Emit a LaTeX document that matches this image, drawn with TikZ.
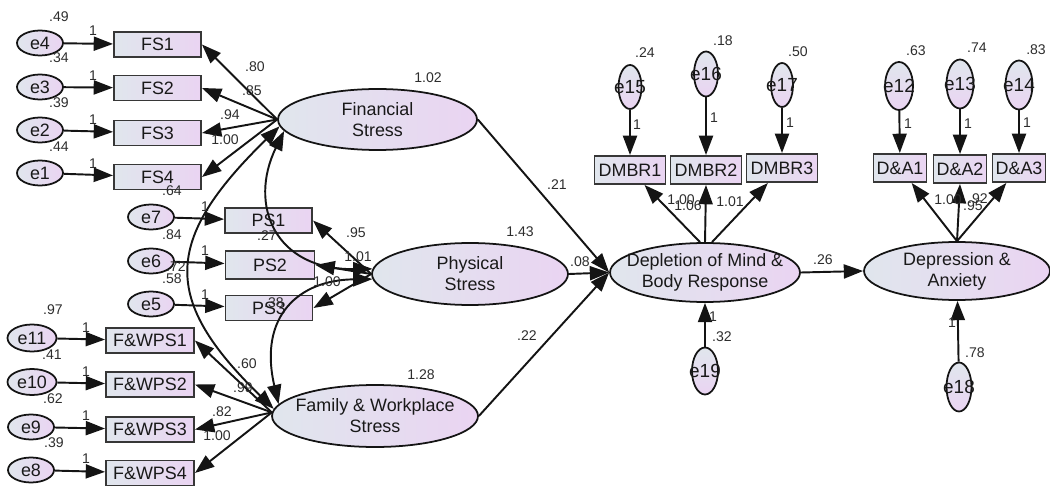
\documentclass[tikz,border=0pt]{standalone}
\usepackage{fontspec}
\setmainfont{Liberation Sans}
\usetikzlibrary{arrows.meta,shapes.geometric}
\definecolor{fillL}{RGB}{224,230,237}
\definecolor{fillR}{RGB}{234,212,242}
\definecolor{edge}{RGB}{20,20,20}
\definecolor{boxedge}{RGB}{55,55,55}
\definecolor{txt}{RGB}{25,25,25}
\definecolor{numc}{RGB}{45,45,45}
\begin{document}
\begin{tikzpicture}[x=0.02cm,y=-0.02cm,
  every node/.style={text=txt},
  latent/.style={ellipse,draw=edge,line width=1pt,left color=fillL,right color=fillR,inner sep=0pt},
  lattext/.style={align=center,font=\fontsize{10.2}{12}\selectfont,inner sep=0pt},
  obs/.style={rectangle,draw=boxedge,line width=1.1pt,left color=fillL,right color=fillR,inner sep=0pt,minimum width=1.74cm,minimum height=0.5cm,font=\fontsize{10.2}{12}\selectfont},
  errh/.style={ellipse,draw=edge,line width=1pt,left color=fillL,right color=fillR,inner sep=0pt,minimum width=0.92cm,minimum height=0.5cm,font=\fontsize{10.2}{12}\selectfont},
  errv/.style={ellipse,draw=edge,line width=1pt,top color=fillL,bottom color=fillR,inner sep=0pt,minimum width=0.5cm,minimum height=0.92cm,font=\fontsize{10.8}{12}\selectfont},
  num/.style={font=\fontsize{8}{9}\selectfont,text=numc,inner sep=0pt},
  arr/.style={draw=edge,line width=1.1pt,-{Triangle[length=11pt,width=8pt]}},
  darr/.style={draw=edge,line width=1.1pt,{Triangle[length=11pt,width=8pt]}-{Triangle[length=11pt,width=8pt]}},
]
\useasboundingbox (0,0) rectangle (1050,489);

% ---------- latent variables ----------
\node[latent,minimum width=3.98cm,minimum height=1.22cm] (fs) at (377.5,119.5) {};
\node[lattext] (fst) at (fs) {Financial\\Stress};
\node[latent,minimum width=3.92cm,minimum height=1.24cm] (ps) at (470,274) {};
\node[lattext] (pst) at (ps) {Physical\\Stress};
\node[latent,minimum width=4.12cm,minimum height=1.24cm] (fws) at (375,416) {};
\node[lattext] (fwst) at (fws) {Family \& Workplace\\Stress};
\node[latent,minimum width=3.8cm,minimum height=1.18cm] (dep) at (705,272.5) {};
\node[lattext] (dept) at (dep) {Depletion of Mind \&\\Body Response};
\node[latent,minimum width=3.72cm,minimum height=1.16cm] (da) at (957,271) {};
\node[lattext] (dat) at (da) {Depression \&\\Anxiety};

% ---------- FS indicators ----------
\node[errh] (e4) at (40,43) {e4};
\node[errh] (e3) at (40,87) {e3};
\node[errh] (e2) at (40,130) {e2};
\node[errh] (e1) at (40,173) {e1};
\node[obs] (fs1) at (157.5,44.5) {FS1};
\node[obs] (fs2) at (157.5,88) {FS2};
\node[obs] (fs3) at (157.5,133) {FS3};
\node[obs] (fs4) at (157.5,177) {FS4};

% ---------- PS indicators ----------
\node[errh] (e7) at (151,217) {e7};
\node[errh] (e6) at (151,261) {e6};
\node[errh] (e5) at (151,304) {e5};
\node[obs] (ps1) at (268.5,220.5) {PS1};
\node[obs,minimum width=1.78cm,minimum height=0.56cm] (ps2) at (270,265) {PS2};
\node[obs] (ps3) at (269,308) {PS3};

% ---------- FWS indicators ----------
\node[errh,minimum width=0.98cm,minimum height=0.54cm] (e11) at (32,338) {e11};
\node[errh,minimum width=0.98cm,minimum height=0.52cm] (e10) at (32,382) {e10};
\node[errh] (e9) at (31,427) {e9};
\node[errh] (e8) at (31,470) {e8};
\node[obs,minimum width=1.76cm] (fw1) at (150,340.5) {F\&WPS1};
\node[obs,minimum width=1.76cm] (fw2) at (150,384.5) {F\&WPS2};
\node[obs,minimum width=1.76cm] (fw3) at (150,429.5) {F\&WPS3};
\node[obs,minimum width=1.76cm] (fw4) at (150,473) {F\&WPS4};

% ---------- DMBR indicators ----------
\node[errv,minimum width=0.46cm,minimum height=0.88cm] (e15) at (630,87) {\makebox[0pt]{e15}};
\node[errv,minimum width=0.48cm,minimum height=0.9cm] (e16) at (706,74) {\makebox[0pt]{e16}};
\node[errv,minimum width=0.44cm,minimum height=0.88cm] (e17) at (782,85) {\makebox[0pt]{e17}};
\node[obs,minimum width=1.42cm,minimum height=0.56cm] (dm1) at (630,170) {DMBR1};
\node[obs,minimum width=1.42cm,minimum height=0.56cm] (dm2) at (706,170) {DMBR2};
\node[obs,minimum width=1.42cm,minimum height=0.56cm] (dm3) at (782,168) {DMBR3};

% ---------- D&A indicators ----------
\node[errv,minimum width=0.56cm,minimum height=0.96cm] (e12) at (899,86) {\makebox[0pt]{e12}};
\node[errv,minimum width=0.54cm,minimum height=0.98cm] (e13) at (960,84) {\makebox[0pt]{e13}};
\node[errv,minimum width=0.54cm,minimum height=0.98cm] (e14) at (1019,85) {\makebox[0pt]{e14}};
\node[obs,minimum width=1.06cm,minimum height=0.56cm] (da1) at (900,168) {D\&A1};
\node[obs,minimum width=1.06cm,minimum height=0.56cm] (da2) at (960,169) {D\&A2};
\node[obs,minimum width=1.06cm,minimum height=0.56cm] (da3) at (1019,168) {D\&A3};

% ---------- residuals ----------
\node[errv,minimum width=0.52cm,minimum height=0.94cm] (e19) at (705,371) {\makebox[0pt]{e19}};
\node[errv,minimum width=0.5cm,minimum height=0.98cm] (e18) at (959,387) {\makebox[0pt]{e18}};

% ---------- error paths ----------
\draw[arr] (e4) -- (fs1);
\draw[arr] (e3) -- (fs2);
\draw[arr] (e2) -- (fs3);
\draw[arr] (e1) -- (fs4);
\draw[arr] (e7) -- (ps1);
\draw[arr] (e6) -- (ps2);
\draw[arr] (e5) -- (ps3);
\draw[arr] (e11) -- (fw1);
\draw[arr] (e10) -- (fw2);
\draw[arr] (e9) -- (fw3);
\draw[arr] (e8) -- (fw4);
\draw[arr] (e15) -- (dm1);
\draw[arr] (e16) -- (dm2);
\draw[arr] (e17) -- (dm3);
\draw[arr] (e12) -- (da1);
\draw[arr] (e13) -- (da2);
\draw[arr] (e14) -- (da3);
\draw[arr] (e19) -- (dep);
\draw[arr] (e18) -- (da);

% ---------- loadings ----------
\draw[arr] (fs.west) -- (fs1.east);
\draw[arr] (fs.west) -- (fs2.east);
\draw[arr] (fs.west) -- (fs3.east);
\draw[arr] (fs.west) -- (fs4.east);
\draw[arr] (ps.west) -- (ps1.east);
\draw[arr] (ps.west) -- (ps2.east);
\draw[arr] (ps.west) -- (ps3.east);
\draw[arr] (fws.178) -- (fw1.east);
\draw[arr] (fws.178) -- (fw2.east);
\draw[arr] (fws.178) -- (fw3.east);
\draw[arr] (fws.178) -- (fw4.east);
\draw[arr] ([xshift=-0.1cm]dep.north) -- (dm1);
\draw[arr] (dep.north) -- (dm2.south);
\draw[arr] ([xshift=0.14cm]dep.north) -- (dm3);
\draw[arr] (da.north) -- (da1);
\draw[arr] (da.north) -- (da2.south);
\draw[arr] (da.north) -- (da3);

% ---------- structural paths ----------
\draw[arr] (fs.east) -- (dep.west);
\draw[arr] (ps.east) -- (dep.west);
\draw[arr] (fws.east) -- (dep.west);
\draw[arr] (dep.east) -- (da.west);

% ---------- covariances ----------
\draw[darr] (fs.184) .. controls (162,241) and (162,300) .. (fws.176);
\draw[darr] (fs.187) .. controls (248,205) and (275,270) .. (ps.177);
\draw[darr] (ps.183) .. controls (300,280) and (258,315) .. (fws.173);

% ---------- numbers: FS block ----------
\node[num] (n1) at (59,17) {.49};
\node[num] (n2) at (59,58) {.34};
\node[num] (n3) at (59,103) {.39};
\node[num] (n4) at (59,147) {.44};
\node[num] (n5) at (93,31) {1};
\node[num] (n6) at (93,76) {1};
\node[num] (n7) at (93,120) {1};
\node[num] (n8) at (93,164) {1};
\node[num] (n9) at (255,67) {.80};
\node[num] (n10) at (252,91) {.85};
\node[num] (n11) at (230,115) {.94};
\node[num] (n12) at (225,140) {1.00};
\node[num] (n13) at (428,78) {1.02};

% ---------- numbers: PS block ----------
\node[num] (n14) at (172,191) {.64};
\node[num] (n15) at (172,235) {.84};
\node[num] (n16) at (176,267) {.72};
\node[num] (n17) at (172,279) {.58};
\node[num] (n18) at (205,207) {1};
\node[num] (n19) at (205,251) {1};
\node[num] (n20) at (205,295) {1};
\node[num] (n21) at (267,236) {.27};
\node[num] (n22) at (274,303) {.38};
\node[num] (n23) at (356,233) {.95};
\node[num] (n24) at (358,257) {1.01};
\node[num] (n25) at (327,282) {1.00};
\node[num] (n26) at (520,232) {1.43};

% ---------- numbers: FWS block ----------
\node[num] (n27) at (53,310) {.97};
\node[num] (n28) at (52,355) {.41};
\node[num] (n29) at (53,399) {.62};
\node[num] (n30) at (54,443) {.39};
\node[num] (n31) at (86,328) {1};
\node[num] (n32) at (86,372) {1};
\node[num] (n33) at (86,416) {1};
\node[num] (n34) at (86,459) {1};
\node[num] (n35) at (247,364) {.60};
\node[num] (n36) at (243,388) {.99};
\node[num] (n37) at (222,412) {.82};
\node[num] (n38) at (217,436) {1.00};
\node[num] (n39) at (421,375) {1.28};

% ---------- numbers: structural ----------
\node[num] (n40) at (557,185) {.21};
\node[num] (n41) at (580,262) {.08};
\node[num] (n42) at (527,336) {.22};
\node[num] (n43) at (823,260) {.26};

% ---------- numbers: DMBR block ----------
\node[num] (n44) at (645,53) {.24};
\node[num] (n45) at (723,41) {.18};
\node[num] (n46) at (798,52) {.50};
\node[num] (n47) at (637,125) {1};
\node[num] (n48) at (714,118) {1};
\node[num] (n49) at (790,123) {1};
\node[num] (n50) at (681,200) {1.00};
\node[num] (n51) at (688,206) {1.06};
\node[num] (n52) at (730,202) {1.01};
\node[num] (n53) at (722,337) {.32};
\node[num] (n54) at (713,317) {1};

% ---------- numbers: D&A block ----------
\node[num] (n55) at (916,51) {.63};
\node[num] (n56) at (977,48) {.74};
\node[num] (n57) at (1036,50) {.83};
\node[num] (n58) at (908,124) {1};
\node[num] (n59) at (968,124) {1};
\node[num] (n60) at (1027,123) {1};
\node[num] (n61) at (948,200) {1.00};
\node[num] (n62) at (978,199) {.92};
\node[num] (n63) at (973,206) {.95};
\node[num] (n64) at (975,353) {.78};
\node[num] (n65) at (952,323) {1};
\end{tikzpicture}
\end{document}
